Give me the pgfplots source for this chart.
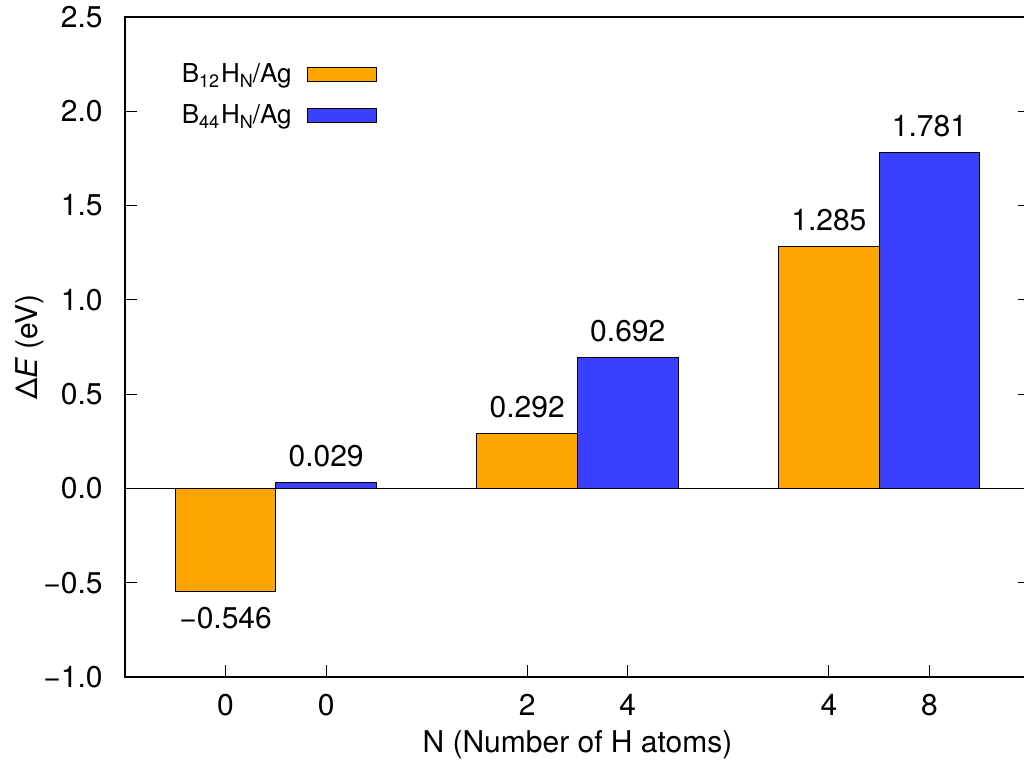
\documentclass[border=0pt]{standalone}
\usepackage{fontspec}
\setmainfont{TeX Gyre Heros}
\usepackage{pgfplots}
\pgfplotsset{compat=1.18}
\definecolor{barorange}{RGB}{255,165,0}
\definecolor{barblue}{RGB}{58,64,255}
\newcommand{\sub}[1]{\raisebox{-2.6pt}{\fontsize{9}{10}\selectfont #1}}
\begin{document}
\begin{tikzpicture}[font=\fontsize{15}{18}\selectfont]
\begin{axis}[
  at={(62.5pt,46pt)}, anchor=south west,
  scale only axis, width=452.5pt, height=330pt,
  xmin=0, xmax=9, ymin=-1, ymax=2.5,
  axis line style={line width=0.8pt},
  tick style={line width=0.6pt, black},
  tick align=inside, major tick length=6pt,
  xtick pos=bottom, ytick pos=both,
  xtick={1,2,4,5,7,8}, xticklabels={0,0,2,4,4,8},
  ytick={-1,-0.5,0,0.5,1,1.5,2,2.5},
  yticklabels={−1.0,−0.5,0.0,0.5,1.0,1.5,2.0,2.5},
  xticklabel style={anchor=center, inner sep=0pt, yshift=-14pt},
  yticklabel style={anchor=east, inner sep=0pt, xshift=-11pt},
  xlabel={N (Number of H atoms)},
  ylabel={Δ\textit{E} (eV)},
  xlabel style={at={(axis description cs:0.5,-0.103)}, anchor=center},
  ylabel style={at={(axis description cs:-0.105,0.5)}, anchor=center},
  legend plot pos=right,
  legend cell align=left,
  legend style={at={(axis description cs:0.2785,0.882)}, anchor=east,
    draw=none, fill=none, inner sep=0pt, row sep=5.5pt, column sep=5.5pt,
    font=\fontsize{13}{15}\selectfont},
  legend image code/.code={\draw[#1,draw=black,line width=0.5pt] (0pt,-3.6pt) rectangle (34.5pt,3.6pt);},
  nodes near coords,
  point meta=explicit symbolic,
  nodes near coords style={font=\fontsize{15}{18}\selectfont, inner sep=7.5pt},
]
\addplot[draw=black, line width=0.5pt, forget plot, no marks] coordinates {(0,0) (9,0)};
\addplot[ybar, bar width=1, bar shift=0pt, fill=barorange, draw=black, line width=0.5pt]
  coordinates {(4,0.292)[0.292] (7,1.285)[1.285]};
\addlegendentry{B\sub{12}\kern1pt H\sub{N}/Ag}
\addplot[ybar, bar width=1, bar shift=0pt, fill=barblue, draw=black, line width=0.5pt]
  coordinates {(2,0.029)[0.029] (5,0.692)[0.692] (8,1.781)[1.781]};
\addlegendentry{B\sub{44}\kern1pt H\sub{N}/Ag}
\addplot[ybar, bar width=1, bar shift=0pt, fill=barorange, draw=black, line width=0.5pt, forget plot,
  nodes near coords style={anchor=north}]
  coordinates {(1,-0.546)[−0.546]};
\end{axis}
\pgfresetboundingbox
\useasboundingbox (0,0) rectangle (512pt,384.5pt);
\end{tikzpicture}
\end{document}
